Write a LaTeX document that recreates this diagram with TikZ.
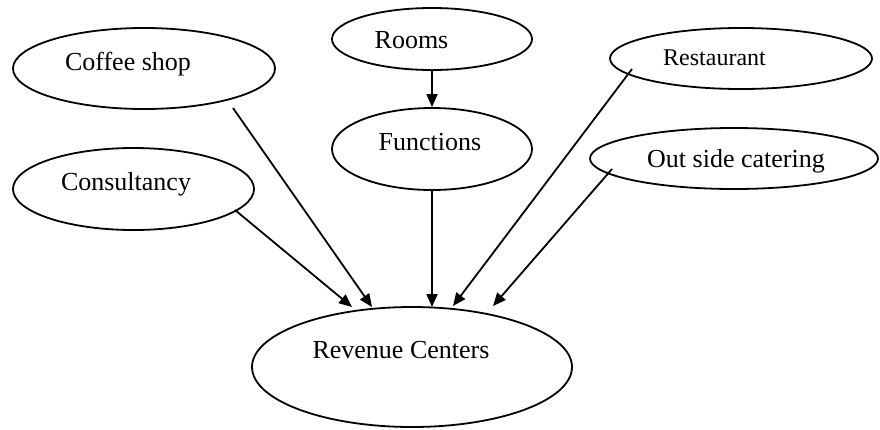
\documentclass[tikz,border=0pt]{standalone}
\usepackage{fontspec}
\setmainfont{Liberation Serif}
\usetikzlibrary{shapes.geometric,arrows.meta}
\begin{document}
\begin{tikzpicture}[x=1pt,y=-1pt,
  oval/.style={draw=black,ellipse,line width=1.8pt,inner sep=0pt},
  lbl/.style={anchor=base,inner sep=0pt,font=\fontsize{26}{30}\selectfont},
  conn/.style={line width=1.8pt,-{Triangle[length=13pt,width=11pt]}}]
\useasboundingbox[fill=white] (0,0) rectangle (880,429);
\node[oval,minimum width=262pt,minimum height=81pt] (coffee) at (144,68.5) {};
\node[oval,minimum width=241pt,minimum height=82pt] (consult) at (133.5,189) {};
\node[oval,minimum width=200pt,minimum height=62pt] (rooms) at (432,39) {};
\node[oval,minimum width=200pt,minimum height=82pt] (func) at (432,149) {};
\node[oval,minimum width=262pt,minimum height=61pt] (rest) at (741,58.5) {};
\node[oval,minimum width=288pt,minimum height=61pt] (outside) at (734,158.5) {};
\node[oval,minimum width=320pt,minimum height=120pt] (rev) at (412,367) {};
\node[lbl] (tcoffee) at (128,70) {Coffee shop};
\node[lbl] (tconsult) at (126,190) {Consultancy};
\node[lbl] (trooms) at (411.5,48) {Rooms};
\node[lbl] (tfunc) at (430,150) {Functions};
\node[lbl,font=\fontsize{24}{28}\selectfont] (trest) at (714.5,65) {Restaurant};
\node[lbl] (toutside) at (736,167) {Out side catering};
\node[lbl] (trev) at (401,358) {Revenue Centers};
\coordinate (s1) at (235,210);
\coordinate (s2) at (233,108);
\coordinate (s4) at (632,69);
\coordinate (s5) at (612,169);
\coordinate (e1) at (352,307);
\coordinate (e2) at (372,307);
\coordinate (e3) at (432,307);
\coordinate (e4) at (453,306);
\coordinate (e5) at (493,306);
\draw[conn] (s1) -- (e1);
\draw[conn] (s2) -- (e2);
\draw[conn] (func.south) -- (e3);
\draw[conn] (s4) -- (e4);
\draw[conn] (s5) -- (e5);
\draw[conn] (rooms.south) -- (func.north);
\end{tikzpicture}
\end{document}
